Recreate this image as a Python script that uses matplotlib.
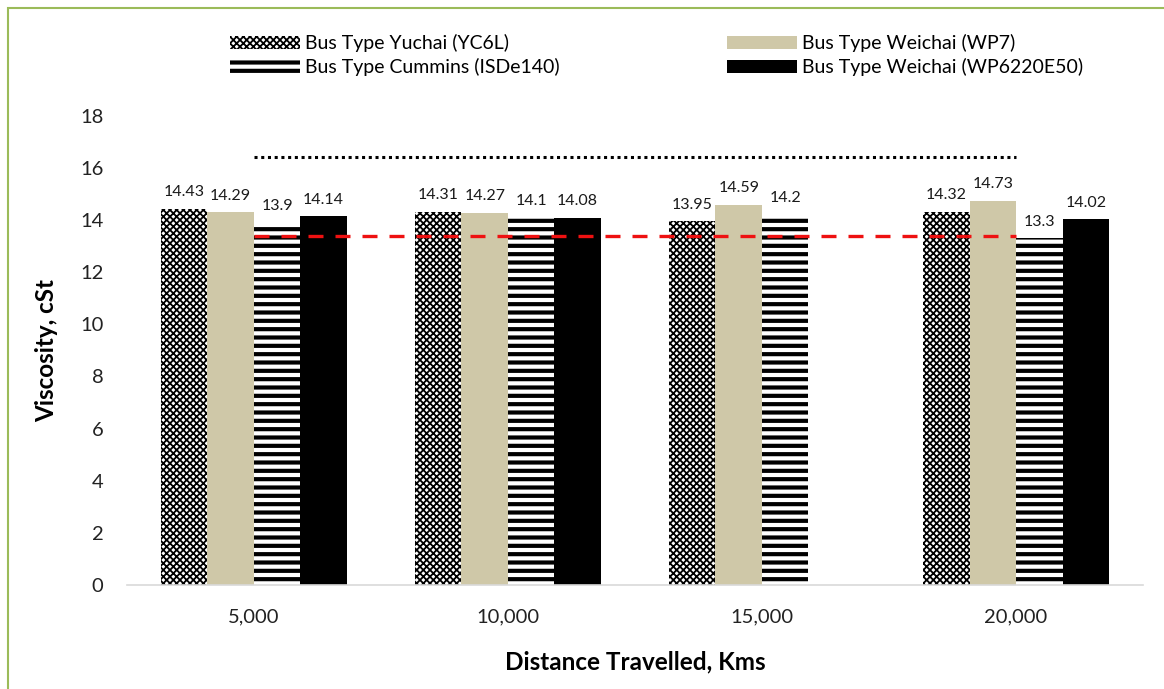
import matplotlib
matplotlib.use("Agg")
import matplotlib.pyplot as plt
import numpy as np
from matplotlib.patches import Rectangle

categories = ["5,000", "10,000", "15,000", "20,000"]
series_names = ["Bus Type Yuchai (YC6L)", "Bus Type Weichai (WP7)",
                "Bus Type Cummins (ISDe140)", "Bus Type Weichai (WP6220E50)"]
yuchai = [14.43, 14.31, 13.95, 14.32]
weichai_wp7 = [14.29, 14.27, 14.59, 14.73]
cummins = [13.9, 14.1, 14.2, 13.3]
weichai_wp6220 = [14.14, 14.08, np.nan, 14.02]
upper_limit = 16.4
lower_limit = 13.4
yticks = [0, 2, 4, 6, 8, 10, 12, 14, 16, 18]

plt.rcParams['font.family'] = ['Lato', 'DejaVu Sans']
CHECK_LW = 1.3
STRIPE_LW = 3.0
plt.rcParams['hatch.linewidth'] = CHECK_LW

fig = plt.figure(figsize=(11.64, 6.89), dpi=100)
ax = fig.add_axes([0.109, 0.151, 0.873, 0.681])

x = np.arange(len(categories))
w = 0.183
offs = [-1.5 * w, -0.5 * w, 0.5 * w, 1.5 * w]

b1 = ax.bar(x + offs[0], yuchai, w, facecolor='white', edgecolor='black', hatch='xxxxx', linewidth=0, label=series_names[0])
b2 = ax.bar(x + offs[1], weichai_wp7, w, facecolor='#CFC8A8', edgecolor='#CFC8A8', linewidth=0, label=series_names[1])
plt.rcParams['hatch.linewidth'] = STRIPE_LW
b3 = ax.bar(x + offs[2], cummins, w, facecolor='white', edgecolor='black', hatch='--', linewidth=0, label=series_names[2])
b4 = ax.bar(x + offs[3], weichai_wp6220, w, facecolor='black', edgecolor='black', linewidth=0, label=series_names[3])

for bs, vals in [(b1, yuchai), (b2, weichai_wp7), (b3, cummins), (b4, weichai_wp6220)]:
    for rect, v in zip(bs, vals):
        if np.isnan(v):
            continue
        ax.annotate(f"{v:g}", (rect.get_x() + rect.get_width() / 2, v),
                    xytext=(0, 7), textcoords='offset points', ha='center', va='bottom',
                    fontsize=11.5, color='#1a1a1a')

ax.plot([x[0], x[-1]], [upper_limit, upper_limit], color='black', linestyle=(0, (1, 1.2)), linewidth=2.2)
ax.plot([x[0], x[-1]], [lower_limit, lower_limit], color='#EE1111', linestyle=(0, (4.5, 3.6)), linewidth=2.4)

ax.set_xlim(-0.5, 3.5)
ax.set_ylim(0, 18)
ax.set_yticks(yticks)
ax.set_xticks(x)
ax.set_xticklabels(categories)
ax.tick_params(axis='both', length=0, labelsize=14.5, colors='#222222')
ax.tick_params(axis='x', pad=17)
ax.tick_params(axis='y', pad=17)
for s in ['top', 'right', 'left']:
    ax.spines[s].set_visible(False)
ax.spines['bottom'].set_color('#D9D9D9')
ax.spines['bottom'].set_linewidth(1.2)

ax.set_ylabel("Viscosity, cSt", fontsize=17.5, fontweight='bold', labelpad=16)
ax.set_xlabel("Distance Travelled, Kms", fontsize=17.5, fontweight='bold', labelpad=18)

handles = [b1, b3, b2, b4]
labels = [series_names[0], series_names[2], series_names[1], series_names[3]]
leg = fig.legend(handles, labels, ncol=2, loc='upper left', bbox_to_anchor=(230 / 1164, 1 - 34 / 689),
                 frameon=False, fontsize=14, handlelength=3.6, handleheight=0.65,
                 columnspacing=8.6, labelspacing=0.3, handletextpad=0.25,
                 borderpad=0, borderaxespad=0)

leg_lws = [CHECK_LW, STRIPE_LW, CHECK_LW, CHECK_LW]
for p, lw in zip(leg.get_patches(), leg_lws):
    if hasattr(p, 'set_hatch_linewidth'):
        p.set_hatch_linewidth(lw)
    else:
        p._hatch_linewidth = lw

fig.patches.append(Rectangle((8 / 1164, -0.05), 1.2, 1 - 8 / 689 + 0.05, transform=fig.transFigure,
                             fill=False, edgecolor='#9BBB59', linewidth=1.5))

fig.savefig("out.png", dpi=100)
